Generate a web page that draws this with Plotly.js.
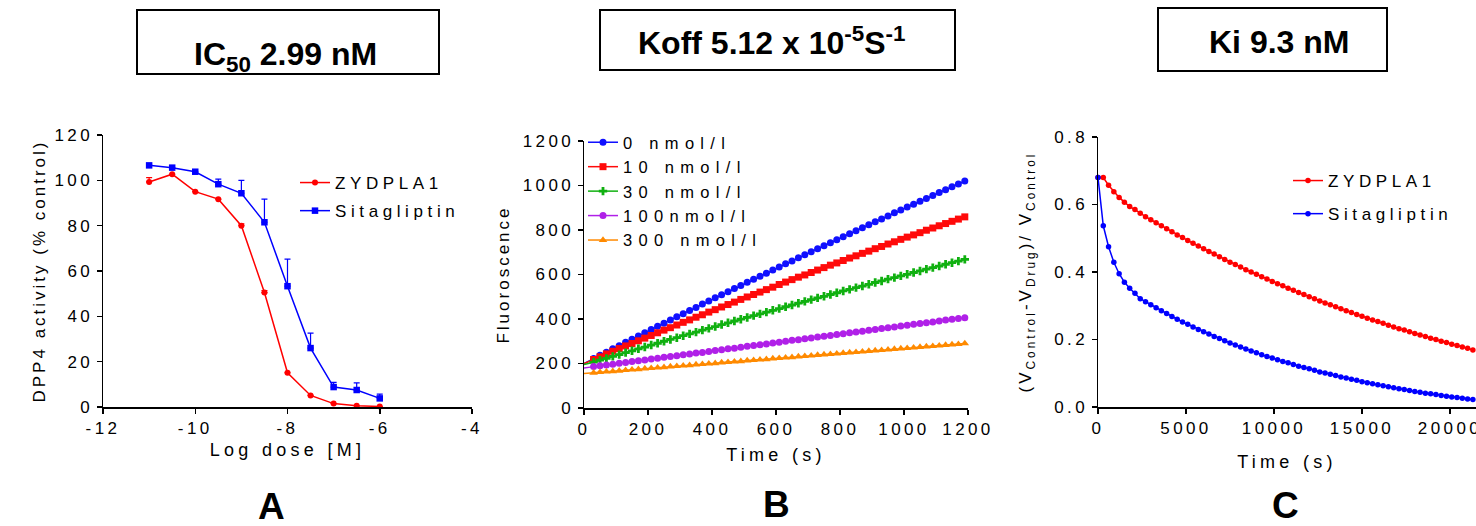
<!DOCTYPE html>
<html>
<head>
<meta charset="utf-8">
<script src="https://cdn.plot.ly/plotly-3.0.1.min.js"></script>
<style>
  html, body { margin: 0; padding: 0; background: #fff; }
  #plot { width: 1476px; height: 526px; }
  text { letter-spacing: 3.4px; }
  .xtitle, .x2title, .x3title { letter-spacing: 4.3px; }
  .ytitle, .y2title, .y3title { letter-spacing: 3px; }
  .annotation-text { letter-spacing: 0px; }
</style>
</head>
<body>
<div id="plot"></div>
<script>
// ---------- Panel A: dose response ----------
const doseA = [-11, -10.5, -10, -9.5, -9, -8.5, -8, -7.5, -7, -6.5, -6];
const zydA = [99.3, 102.7, 95.0, 91.7, 80.0, 50.5, 15.1, 5.1, 1.5, 0.6, 0.2];
const zydErrA = [1.9, 0, 0, 0, 0.8, 0.9, 0, 0, 0, 0, 0];
const sitaA = [106.6, 105.6, 103.8, 98.3, 94.3, 81.5, 53.3, 26.0, 8.8, 7.5, 3.8];
const sitaErrA = [0, 0, 0, 2.2, 5.7, 10.2, 11.9, 6.6, 2.1, 3.1, 1.9];
const xTickValsA = [-12, -10, -8, -6, -4];
const xTickTextA = ['-12', '-10', '-8', '-6', '-4'];

// ---------- Panel B: fluorescence time course ----------
const seriesNamesB = ['0 nmol/l', '10 nmol/l', '30 nmol/l', '100nmol/l', '300 nmol/l'];
const timeB = [30, 50, 70, 90, 110, 130, 150, 170, 190, 210, 230, 250, 270, 290, 310, 330, 350, 370, 390, 410,
  430, 450, 470, 490, 510, 530, 550, 570, 590, 610, 630, 650, 670, 690, 710, 730, 750, 770, 790, 810,
  830, 850, 870, 890, 910, 930, 950, 970, 990, 1010, 1030, 1050, 1070, 1090, 1110, 1130, 1150, 1170, 1190];
const startB = [200, 200, 195, 180, 155];
const b0 = [222, 237, 251, 266, 280, 295, 309, 324, 338, 353, 367, 381, 396, 410, 424, 438, 452, 467, 481, 495,
  509, 523, 537, 551, 565, 579, 592, 606, 620, 634, 648, 661, 675, 689, 702, 716, 729, 743, 756, 770,
  783, 797, 810, 824, 837, 850, 863, 877, 890, 903, 916, 929, 942, 955, 968, 981, 994, 1007, 1020];
const b10 = [218, 230, 243, 255, 267, 279, 290, 302, 314, 326, 338, 350, 361, 373, 385, 396, 408, 419, 431, 442,
  454, 465, 476, 488, 499, 510, 521, 532, 543, 555, 566, 577, 588, 598, 609, 620, 631, 642, 652, 663,
  674, 684, 695, 705, 716, 726, 737, 747, 758, 768, 778, 788, 799, 809, 819, 829, 839, 849, 859];
const b30 = [206, 215, 223, 232, 240, 249, 257, 266, 274, 283, 291, 300, 308, 316, 325, 333, 341, 350, 358, 366,
  375, 383, 391, 399, 407, 415, 423, 431, 439, 447, 455, 463, 471, 479, 487, 495, 502, 510, 518, 526,
  533, 541, 548, 556, 564, 571, 579, 586, 594, 601, 609, 616, 624, 631, 638, 646, 653, 660, 668];
const b100 = [186, 190, 193, 197, 201, 205, 209, 212, 216, 220, 224, 228, 231, 235, 239, 243, 247, 250, 254, 258,
  262, 266, 269, 273, 277, 281, 284, 288, 292, 296, 300, 304, 307, 311, 315, 319, 323, 326, 330, 334,
  338, 342, 345, 349, 353, 357, 361, 364, 368, 372, 376, 380, 383, 387, 391, 395, 399, 402, 406];
const b300 = [158, 161, 163, 165, 167, 170, 172, 174, 177, 179, 181, 183, 186, 188, 190, 192, 195, 197, 199, 201,
  204, 206, 208, 210, 213, 215, 217, 219, 222, 224, 226, 228, 231, 233, 235, 238, 240, 242, 244, 247,
  249, 251, 253, 256, 258, 260, 262, 265, 267, 269, 271, 274, 276, 278, 280, 283, 285, 287, 290];

// ---------- Panel C: dissociation ----------
const timeC = [0, 300, 600, 900, 1200, 1500, 1800, 2100, 2400, 2700, 3000, 3300, 3600, 3900, 4200, 4500, 4800, 5100,
  5400, 5700, 6000, 6300, 6600, 6900, 7200, 7500, 7800, 8100, 8400, 8700, 9000, 9300, 9600, 9900, 10200, 10500,
  10800, 11100, 11400, 11700, 12000, 12300, 12600, 12900, 13200, 13500, 13800, 14100, 14400, 14700, 15000, 15300,
  15600, 15900, 16200, 16500, 16800, 17100, 17400, 17700, 18000, 18300, 18600, 18900, 19200, 19500, 19800, 20100,
  20400, 20700, 21000, 21300];
const zydC = [0.680, 0.680, 0.657, 0.638, 0.621, 0.607, 0.594, 0.585,
  0.574, 0.564, 0.555, 0.546, 0.537, 0.528, 0.519, 0.510, 0.502, 0.493,
  0.485, 0.477, 0.469, 0.461, 0.453, 0.445, 0.437, 0.429, 0.422, 0.415,
  0.407, 0.400, 0.393, 0.386, 0.379, 0.372, 0.365, 0.359, 0.352, 0.346,
  0.339, 0.333, 0.327, 0.321, 0.314, 0.308, 0.303, 0.297, 0.291, 0.285,
  0.280, 0.274, 0.269, 0.263, 0.258, 0.253, 0.248, 0.242, 0.237, 0.232,
  0.228, 0.223, 0.218, 0.213, 0.209, 0.204, 0.200, 0.195, 0.191, 0.186,
  0.182, 0.178, 0.174, 0.169];
const sitaC = [0.680, 0.537, 0.475, 0.429, 0.395, 0.370, 0.352, 0.337,
  0.321, 0.312, 0.303, 0.294, 0.285, 0.277, 0.268, 0.260, 0.252, 0.245,
  0.237, 0.230, 0.223, 0.216, 0.209, 0.203, 0.196, 0.190, 0.184, 0.178,
  0.172, 0.166, 0.161, 0.155, 0.150, 0.145, 0.140, 0.135, 0.131, 0.126,
  0.121, 0.117, 0.113, 0.109, 0.104, 0.101, 0.097, 0.093, 0.089, 0.086,
  0.082, 0.079, 0.075, 0.072, 0.069, 0.066, 0.063, 0.060, 0.057, 0.054,
  0.052, 0.049, 0.046, 0.044, 0.041, 0.039, 0.037, 0.034, 0.032, 0.030,
  0.028, 0.026, 0.024, 0.022];

// ---------- Figure texts ----------
const panelTitles = ['IC<sub>50</sub> 2.99 nM', 'Koff 5.12 x 10<sup>-5</sup>S<sup>-1</sup>', 'Ki 9.3 nM'];
const panelLetters = ['A', 'B', 'C'];

// ---------- Layout helpers ----------
const W = 1476, H = 526;
const px = v => v / W;
const py = v => 1 - v / H;
const FONT = 'Liberation Sans, Arial, Helvetica, sans-serif';
const RED = '#ff0000', BLUE = '#0000ff';
const colorsB = ['#1010ff', '#ff0a0a', '#10b010', '#b020e8', '#ff8a00'];
const symbolsB = ['circle', 'square', 'cross', 'circle', 'triangle-up'];
const sizesB = [7, 7, 7, 7, 7.5];

const axisBase = {
  showline: true, linecolor: '#000', linewidth: 1.5,
  ticks: 'outside', ticklen: 5, tickwidth: 1.5, tickcolor: '#000',
  showgrid: false, zeroline: false, fixedrange: true,
  tickfont: { family: FONT, size: 17, color: '#000' },
  title: { font: { family: FONT, size: 17, color: '#000' } }
};
function ax(extra) {
  const o = JSON.parse(JSON.stringify(axisBase));
  for (const k in extra) {
    if (k === 'title') Object.assign(o.title, extra.title);
    else o[k] = extra[k];
  }
  return o;
}

const traces = [];
// Panel A
traces.push({
  x: doseA, y: zydA, name: 'ZYDPLA1', xaxis: 'x', yaxis: 'y', legend: 'legend', legendgroup: 'a1',
  mode: 'lines+markers', cliponaxis: false,
  line: { color: RED, width: 1.5 }, marker: { color: RED, size: 6, symbol: 'circle' },
  error_y: { type: 'data', symmetric: false, array: zydErrA, arrayminus: zydErrA.map(() => 0), color: RED, thickness: 1.2, width: 3 }
});
traces.push({
  x: doseA, y: sitaA, name: 'Sitagliptin', xaxis: 'x', yaxis: 'y', legend: 'legend', legendgroup: 'a2',
  mode: 'lines+markers', cliponaxis: false,
  line: { color: BLUE, width: 1.5 }, marker: { color: BLUE, size: 6.5, symbol: 'square' },
  error_y: { type: 'data', symmetric: false, array: sitaErrA, arrayminus: sitaErrA.map(() => 0), color: BLUE, thickness: 1.2, width: 3 }
});
// Panel B
const seriesB = [b0, b10, b30, b100, b300];
seriesB.forEach((vals, i) => {
  traces.push({
    x: [0, timeB[0]], y: [startB[i], vals[0]], xaxis: 'x2', yaxis: 'y2', showlegend: false,
    mode: 'lines', line: { color: colorsB[i], width: 1.5 }, hoverinfo: 'skip', cliponaxis: false
  });
  traces.push({
    x: timeB, y: vals, name: seriesNamesB[i], xaxis: 'x2', yaxis: 'y2', legend: 'legend2',
    mode: 'lines+markers', cliponaxis: false,
    line: { color: colorsB[i], width: 1.5 },
    marker: { color: colorsB[i], size: sizesB[i], symbol: symbolsB[i] }
  });
});
// Panel C
traces.push({
  x: timeC, y: zydC, name: 'ZYDPLA1', xaxis: 'x3', yaxis: 'y3', legend: 'legend3', legendgroup: 'c1',
  mode: 'lines+markers', cliponaxis: false,
  line: { color: RED, width: 1.5 }, marker: { color: RED, size: 5.5, symbol: 'circle' }
});
traces.push({
  x: timeC, y: sitaC, name: 'Sitagliptin', xaxis: 'x3', yaxis: 'y3', legend: 'legend3', legendgroup: 'c2',
  mode: 'lines+markers', cliponaxis: false,
  line: { color: BLUE, width: 1.5 }, marker: { color: BLUE, size: 5.5, symbol: 'circle' }
});

const legendBase = {
  bgcolor: 'rgba(0,0,0,0)', borderwidth: 0, xanchor: 'left', yanchor: 'top',
  font: { family: FONT, size: 17, color: '#000' }, itemwidth: 30
};

const boxes = [[137, 10, 439, 74], [600, 10, 955, 70], [1158, 8, 1387, 71]];
const titlePos = [[285, 56], [772, 41], [1279, 42]];
const letterPos = [[271, 506], [776, 504], [1285, 505]];

const shapes = boxes.map(b => ({
  type: 'rect', xref: 'paper', yref: 'paper',
  x0: px(b[0]), x1: px(b[2]), y0: py(b[3]), y1: py(b[1]),
  line: { color: '#000', width: 2 }, fillcolor: 'rgba(0,0,0,0)'
}));
const annotations = [];
panelTitles.forEach((t, i) => annotations.push({
  text: '<b>' + t + '</b>', xref: 'paper', yref: 'paper',
  x: px(titlePos[i][0]), y: py(titlePos[i][1]), xanchor: 'center', yanchor: 'middle',
  showarrow: false, font: { family: FONT, size: 32, color: '#000' }
}));
panelLetters.forEach((t, i) => annotations.push({
  text: '<b>' + t + '</b>', xref: 'paper', yref: 'paper',
  x: px(letterPos[i][0]), y: py(letterPos[i][1]), xanchor: 'center', yanchor: 'middle',
  showarrow: false, font: { family: FONT, size: 37, color: '#000' }
}));

const layout = {
  width: W, height: H, margin: { l: 0, r: 0, t: 0, b: 0 },
  paper_bgcolor: '#fff', plot_bgcolor: 'rgba(0,0,0,0)',
  font: { family: FONT, color: '#000' },
  xaxis: ax({ domain: [px(103), px(472)], range: [-12, -4], anchor: 'y', tickvals: xTickValsA, ticktext: xTickTextA,
    title: { text: 'Log dose [M]', standoff: 6, font: { family: FONT, size: 18, color: '#000' } } }),
  yaxis: ax({ domain: [py(407), py(135)], range: [0, 120], anchor: 'x', dtick: 20,
    title: { text: 'DPP4 activity (% control)', standoff: 4 } }),
  xaxis2: ax({ domain: [px(584), px(968)], range: [0, 1200], anchor: 'y2', dtick: 200,
    title: { text: 'Time (s)', standoff: 10, font: { family: FONT, size: 18, color: '#000' } } }),
  yaxis2: ax({ domain: [py(408), py(141)], range: [0, 1200], anchor: 'x2', dtick: 200,
    title: { text: 'Fluoroscence', standoff: 8 } }),
  xaxis3: ax({ domain: [px(1098), 1], range: [0, 21477], anchor: 'y3', dtick: 5000, tickformat: 'd', ticklabeloverflow: 'allow',
    title: { text: 'Time (s)', standoff: 18, font: { family: FONT, size: 18, color: '#000' } } }),
  yaxis3: ax({ domain: [py(407), py(137)], range: [0, 0.8], anchor: 'x3', dtick: 0.2, tickformat: '.1f',
    title: { text: '(V<sub>Control</sub>-V<sub>Drug</sub>)/ V<sub>Control</sub>', standoff: 18 } }),
  legend: Object.assign({}, legendBase, { x: px(295), y: py(165), traceorder: 'grouped', tracegroupgap: 3 }),
  legend2: Object.assign({}, legendBase, { x: px(583), y: py(125), traceorder: 'normal',
    font: { family: FONT, size: 16.5, color: '#000' } }),
  legend3: Object.assign({}, legendBase, { x: px(1288), y: py(163), traceorder: 'grouped', tracegroupgap: 8 }),
  shapes: shapes,
  annotations: annotations,
  showlegend: true
};

function widenLegends(gd) {
  const norm = s => (s || '').replace(/[\s\u00a0]/g, '');
  const namesB = seriesNamesB.map(norm);
  const namesAC = ['ZYDPLA1', 'Sitagliptin'];
  gd.querySelectorAll('.infolayer text').forEach(t => {
    const key = norm(t.textContent);
    if (namesB.indexOf(key) >= 0) t.style.letterSpacing = '6.3px';
    else if (namesAC.indexOf(key) >= 0) t.style.letterSpacing = '4.6px';
  });
  gd.querySelectorAll('.infolayer [clip-path]').forEach(el => {
    if (el.closest('g[class^="legend"]')) el.removeAttribute('clip-path');
  });
}

Plotly.newPlot('plot', traces, layout, { staticPlot: true, displayModeBar: false }).then(gd => {
  widenLegends(gd);
  gd.on && gd.on('plotly_afterplot', () => widenLegends(gd));
});
</script>
</body>
</html>
